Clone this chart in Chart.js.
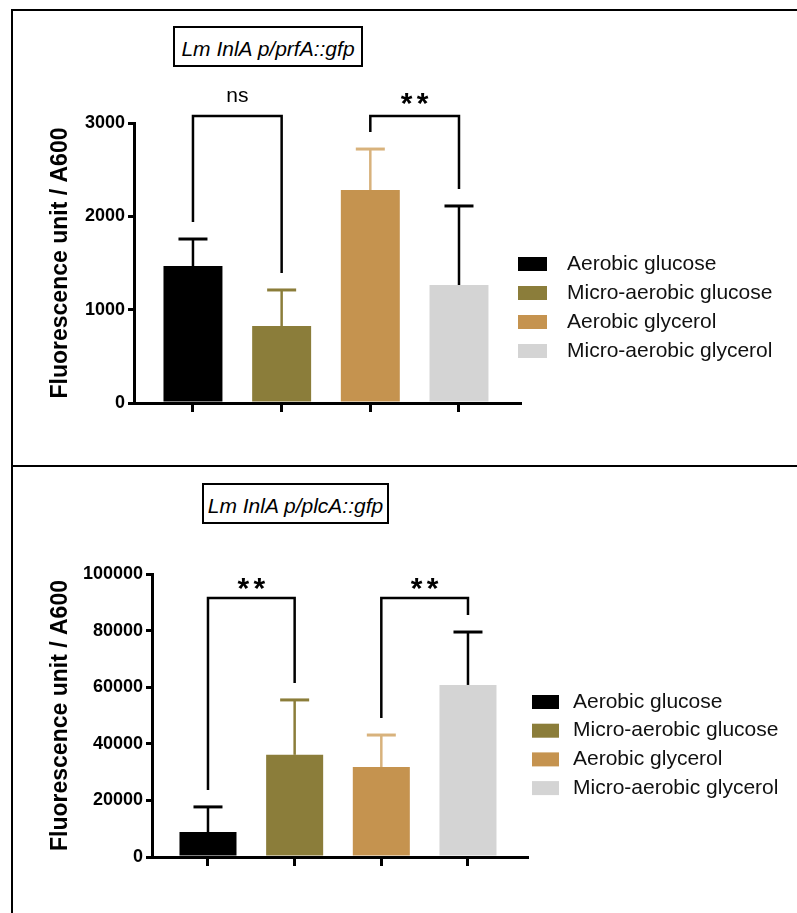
<!DOCTYPE html>
<html>
<head>
<meta charset="utf-8">
<script src="https://cdn.jsdelivr.net/npm/chart.js@4.4.1/dist/chart.umd.min.js"></script>
<style>
  html, body { margin: 0; padding: 0; background: #fff; }
  body { width: 797px; height: 913px; position: relative; overflow: hidden; font-family: 'Liberation Sans', Arial, sans-serif; }
  canvas { position: absolute; left: 0; }
  #prfA { top: 0; }
  #plcA { top: 466px; }
  .rule { position: absolute; background: #000; z-index: 5; }
  .tag {
    position: absolute; z-index: 5; box-sizing: border-box;
    border: 2px solid #000; background: #fff;
    font: italic 21px 'Liberation Sans', Arial, sans-serif; color: #000;
    text-align: center; line-height: 21px; padding-top: 10px; white-space: nowrap;
  }
</style>
</head>
<body>
<canvas id="prfA" width="797" height="466"></canvas>
<canvas id="plcA" width="797" height="447"></canvas>

<div class="rule" style="left:11px; top:9px; width:786px; height:2px;"></div>
<div class="rule" style="left:11px; top:9px; width:2px; height:904px;"></div>
<div class="rule" style="left:11px; top:465px; width:786px; height:2px;"></div>

<div class="tag" style="left:173px; top:26px; width:190px; height:41px;">Lm InlA p/prfA::gfp</div>
<div class="tag" style="left:202px; top:483px; width:187px; height:41px;">Lm InlA p/plcA::gfp</div>

<script>
// Growth conditions (one bar each, same order in both panels)
const categories = ['Aerobic glucose', 'Micro-aerobic glucose', 'Aerobic glycerol', 'Micro-aerobic glycerol'];

// p/prfA::gfp reporter: mean fluorescence / A600 and upper error (SD)
const prfAMeans  = [1468, 825, 2282, 1264];
const prfAErrors = [289, 386, 439, 847];

// p/plcA::gfp reporter: mean fluorescence / A600 and upper error (SD)
const plcAMeans  = [8800, 36100, 31800, 60800];
const plcAErrors = [8900, 19400, 11300, 18700];

// Y axis ticks
const prfATicks = [0, 1000, 2000, 3000];
const plcATicks = [0, 20000, 40000, 60000, 80000, 100000];

// Pairwise comparisons: [first bar, second bar, label]
const prfAComparisons = [[0, 1, 'ns'], [2, 3, '**']];
const plcAComparisons = [[0, 1, '**'], [2, 3, '**']];
const prfABracketLevel = 3075;
const plcABracketLevel = 91500;

const barColors   = ['#000000', '#8B7D3A', '#C5934F', '#D4D4D4'];
const errorColors = ['#000000', '#8B7D3A', '#D8B27C', '#000000'];

const FONT = "'Liberation Sans', Arial, sans-serif";

// Error bars, significance brackets and the side legend
const panelMarks = {
  id: 'panelMarks',
  afterDatasetsDraw(chart, args, o) {
    const { ctx } = chart;
    const xs = chart.scales.x, ys = chart.scales.y;
    const capTop = [];

    ctx.save();
    o.means.forEach((m, i) => {
      const cx = xs.getPixelForValue(i);
      const y0 = ys.getPixelForValue(m);
      const y1 = ys.getPixelForValue(m + o.errors[i]);
      capTop.push(y1);
      ctx.strokeStyle = o.errorColors[i];
      ctx.lineCap = 'butt';
      ctx.lineWidth = 2.5;
      ctx.beginPath(); ctx.moveTo(cx, y0); ctx.lineTo(cx, y1); ctx.stroke();
      ctx.lineWidth = 3;
      ctx.beginPath(); ctx.moveTo(cx - o.capHalf, y1); ctx.lineTo(cx + o.capHalf, y1); ctx.stroke();
    });

    // brackets
    const by = ys.getPixelForValue(o.bracketLevel);
    o.comparisons.forEach(([a, b, label]) => {
      const xa = xs.getPixelForValue(a), xb = xs.getPixelForValue(b);
      ctx.strokeStyle = '#000';
      ctx.lineWidth = 2.5;
      ctx.lineJoin = 'miter';
      ctx.beginPath();
      ctx.moveTo(xa, capTop[a] - o.legGap);
      ctx.lineTo(xa, by);
      ctx.lineTo(xb, by);
      ctx.lineTo(xb, capTop[b] - o.legGap);
      ctx.stroke();

      const mid = (xa + xb) / 2;
      ctx.fillStyle = '#000';
      ctx.textAlign = 'center';
      ctx.textBaseline = 'alphabetic';
      if (label === 'ns') {
        ctx.font = '21px ' + FONT;
        ctx.fillText(label, mid, by - 14);
      } else {
        ctx.font = 'bold 30px ' + FONT;
        const n = label.length;
        for (let k = 0; k < n; k++) {
          ctx.fillText('*', mid + (k - (n - 1) / 2) * 16, by - o.starLift);
        }
      }
    });

    // legend
    const L = o.legend;
    ctx.font = '21px ' + FONT;
    ctx.textAlign = 'left';
    ctx.textBaseline = 'middle';
    categories.forEach((name, i) => {
      const cy = L.y + i * L.step;
      ctx.fillStyle = o.colors[i];
      ctx.fillRect(L.x, cy - L.boxH / 2, L.boxW, L.boxH);
      ctx.fillStyle = '#111';
      ctx.fillText(name, L.textX, cy);
    });
    ctx.restore();
  }
};

function makePanel(id, means, errors, ticks, comparisons, bracketLevel, geo) {
  const step = ticks[1] - ticks[0];
  return new Chart(document.getElementById(id), {
    type: 'bar',
    data: {
      datasets: [{
        data: means.map((v, i) => ({ x: i, y: v })),
        backgroundColor: barColors,
        borderWidth: 0,
        barPercentage: geo.barFrac,
        categoryPercentage: 1
      }]
    },
    options: {
      responsive: false,
      animation: false,
      events: [],
      layout: { padding: { left: 0, top: geo.top, right: geo.right, bottom: geo.bottom } },
      plugins: {
        legend: { display: false },
        tooltip: { enabled: false },
        panelMarks: {
          means, errors, comparisons, bracketLevel,
          colors: barColors, errorColors,
          capHalf: 14.5, legGap: 17, starLift: geo.starLift,
          legend: geo.legend
        }
      },
      scales: {
        x: {
          type: 'linear',
          offset: false,
          min: geo.xMin, max: geo.xMax,
          grid: { offset: false, drawOnChartArea: false, drawTicks: true, tickLength: 9, color: '#000', lineWidth: 3 },
          border: { display: true, color: '#000', width: 3 },
          ticks: { display: false },
          afterBuildTicks: s => { s.ticks = categories.map((c, i) => ({ value: i })); },
          afterFit: s => { s.height = 20; }
        },
        y: {
          min: ticks[0], max: ticks[ticks.length - 1],
          ticks: {
            stepSize: step, color: '#000', padding: 3,
            font: { family: FONT, size: 18, weight: 'bold' },
            callback: v => String(v)
          },
          grid: { drawOnChartArea: false, drawTicks: true, tickLength: 6, color: '#000', lineWidth: 3 },
          border: { display: true, color: '#000', width: 3 },
          title: {
            display: true, text: 'Fluorescence unit / A600', color: '#000',
            font: { family: FONT, size: 23, weight: 'bold' },
            padding: { top: 47, bottom: 0 }
          },
          afterFit: s => { s.width = geo.left; }
        }
      }
    },
    plugins: [panelMarks]
  });
}

makePanel('prfA', prfAMeans, prfAErrors, prfATicks, prfAComparisons, prfABracketLevel, {
  left: 134, top: 123, right: 277, bottom: 466 - 403 - 20,
  xMin: -0.665, xMax: 3.688, barFrac: 0.665, starLift: 3,
  legend: { x: 518, y: 264, step: 29, boxW: 29, boxH: 14, textX: 567 }
});

makePanel('plcA', plcAMeans, plcAErrors, plcATicks, plcAComparisons, plcABracketLevel, {
  left: 152, top: 108, right: 270, bottom: 447 - 391 - 20,
  xMin: -0.646, xMax: 3.681, barFrac: 0.658, starLift: 0,
  legend: { x: 532, y: 236, step: 28.7, boxW: 27, boxH: 14, textX: 573 }
});
</script>
</body>
</html>
